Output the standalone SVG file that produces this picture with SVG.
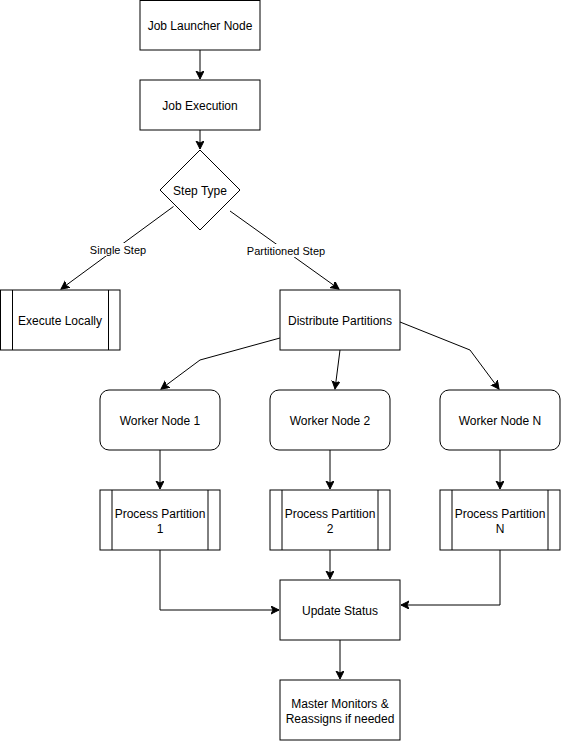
<svg xmlns="http://www.w3.org/2000/svg" width="561" height="741" viewBox="0 0 561 741">
<style>
.box{fill:#fff;stroke:#000;stroke-width:1}
.ln{fill:none;stroke:#000;stroke-width:1}
.e{fill:none;stroke:#000;stroke-width:1;marker-end:url(#arr)}
.t{font-family:"Liberation Sans",Arial,sans-serif;font-size:12px;fill:#000;text-anchor:middle;dominant-baseline:central}
.lb{font-family:"Liberation Sans",Arial,sans-serif;font-size:11px;fill:#000;text-anchor:middle;dominant-baseline:central}
.lbg{fill:#fff}
</style>
<defs>
<marker id="arr" markerUnits="userSpaceOnUse" markerWidth="10" markerHeight="10" refX="8" refY="4" orient="auto" viewBox="0 0 10 10">
<path d="M0,0 L8,4 L0,8 L2,4 Z" fill="#000" stroke="#000" stroke-width="1"/>
</marker>
</defs>
<rect width="561" height="741" fill="#fff"/>
<g id="connectors">
<line class="e" x1="200" y1="50" x2="200" y2="79"/>
<line class="e" x1="200" y1="130" x2="200" y2="149"/>
<line class="e" x1="173.5" y1="206.5" x2="61" y2="289"/>
<line class="e" x1="230" y1="211" x2="339" y2="289"/>
<polyline class="e" points="280,338 200,360 161,389"/>
<line class="e" x1="340" y1="350" x2="335" y2="389"/>
<polyline class="e" points="400,322 470,350 499,389"/>
<line class="e" x1="160" y1="450" x2="160" y2="489"/>
<line class="e" x1="330" y1="450" x2="330" y2="489"/>
<line class="e" x1="500" y1="450" x2="500" y2="489"/>
<polyline class="e" points="160,550 160,610 279,610"/>
<line class="e" x1="330" y1="550" x2="330" y2="579"/>
<polyline class="e" points="500,550 500,605 401,605"/>
<line class="e" x1="340" y1="640" x2="340" y2="679"/>
<rect class="lbg" x="89" y="243" width="58" height="13"/>
<text class="lb" x="118" y="249.5">Single Step</text>
<rect class="lbg" x="246" y="244" width="80" height="13"/>
<text class="lb" x="286" y="251">Partitioned Step</text>
</g>
<g id="job-launcher">
<rect class="box" x="140" y="0.5" width="120" height="49.5"/>
<text class="t" x="200" y="25.5">Job Launcher Node</text>
</g>
<g id="job-execution">
<rect class="box" x="140" y="80" width="120" height="50"/>
<text class="t" x="200" y="106">Job Execution</text>
</g>
<g id="step-type">
<polygon class="box" points="200,150 240,190 200,230 160,190"/>
<text class="t" x="200" y="191">Step Type</text>
</g>
<g id="execute-locally">
<rect class="box" x="0.5" y="290" width="119.5" height="60"/>
<line class="ln" x1="12.5" y1="290" x2="12.5" y2="350"/>
<line class="ln" x1="108.5" y1="290" x2="108.5" y2="350"/>
<text class="t" x="60" y="321">Execute Locally</text>
</g>
<g id="distribute-partitions">
<rect class="box" x="280" y="290" width="120" height="60"/>
<text class="t" x="340" y="321">Distribute Partitions</text>
</g>
<g id="worker-1">
<rect class="box" x="100" y="390" width="120" height="60" rx="9" ry="9"/>
<text class="t" x="160" y="421">Worker Node 1</text>
</g>
<g id="worker-2">
<rect class="box" x="270" y="390" width="120" height="60" rx="9" ry="9"/>
<text class="t" x="330" y="421">Worker Node 2</text>
</g>
<g id="worker-n">
<rect class="box" x="440" y="390" width="120" height="60" rx="9" ry="9"/>
<text class="t" x="500" y="421">Worker Node N</text>
</g>
<g id="process-1">
<rect class="box" x="100" y="490" width="120" height="60"/>
<line class="ln" x1="112" y1="490" x2="112" y2="550"/>
<line class="ln" x1="208" y1="490" x2="208" y2="550"/>
<text class="t" x="160" y="514">Process Partition</text>
<text class="t" x="160" y="529">1</text>
</g>
<g id="process-2">
<rect class="box" x="270" y="490" width="120" height="60"/>
<line class="ln" x1="282" y1="490" x2="282" y2="550"/>
<line class="ln" x1="378" y1="490" x2="378" y2="550"/>
<text class="t" x="330" y="514">Process Partition</text>
<text class="t" x="330" y="529">2</text>
</g>
<g id="process-n">
<rect class="box" x="440" y="490" width="120" height="60"/>
<line class="ln" x1="452" y1="490" x2="452" y2="550"/>
<line class="ln" x1="548" y1="490" x2="548" y2="550"/>
<text class="t" x="500" y="514">Process Partition</text>
<text class="t" x="500" y="529">N</text>
</g>
<g id="update-status">
<rect class="box" x="280" y="580" width="120" height="60"/>
<text class="t" x="340" y="611">Update Status</text>
</g>
<g id="master-monitors">
<rect class="box" x="280" y="680" width="120" height="60"/>
<text class="t" x="340" y="704">Master Monitors &amp;</text>
<text class="t" x="340" y="719">Reassigns if needed</text>
</g>
</svg>
